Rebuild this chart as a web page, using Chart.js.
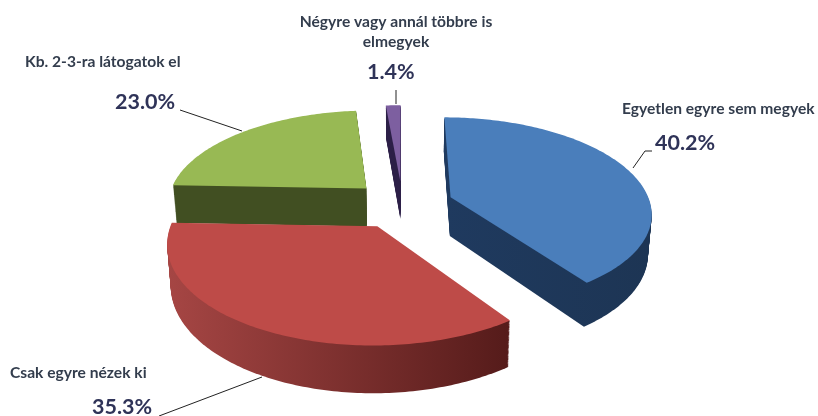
<!DOCTYPE html>
<html lang="hu">
<head>
<meta charset="utf-8">
<title>Pie</title>
<script src="https://cdn.jsdelivr.net/npm/chart.js@4/dist/chart.umd.js"></script>
<style>
    html, body { margin: 0; padding: 0; background: #fff; }
    canvas { display: block; }
</style>
</head>
<body>
<canvas id="pieChart" width="818" height="416"></canvas>
<script>
const categories = [
    'Egyetlen egyre sem megyek',
    'Csak egyre nézek ki',
    'Kb. 2-3-ra látogatok el',
    ['Négyre vagy annál többre is', 'elmegyek']
];
const values = [40.2, 35.3, 23.0, 1.4];

const topColors = ['#4a7ebb', '#be4b48', '#98b954', '#7d5fa0'];
const sideColors = [
    ['#1f3a5f', '#1d3554'],
    ['#a64644', '#551b1a'],
    ['#414f22', '#414f22'],
    ['#2c1f47', '#2c1f47']
];
const drawOrder = [2, 3, 0, 1];

// perspective of the tilted pie
const SQUASH = 0.47;
const PERSPECTIVE = 0.00075;
const DEPTH = 39;
const BOTTOM_SHRINK = 0.015;

// text positions
const nameLayout = [
    { x: 622, y: 109, align: 'left' },
    { x: 10, y: 373, align: 'left' },
    { x: 25, y: 62, align: 'left' },
    { x: 396, y: 22, align: 'center' }
];
const valueLayout = [
    { x: 655, y: 143, align: 'left' },
    { x: 92, y: 407, align: 'left' },
    { x: 115, y: 102, align: 'left' },
    { x: 367, y: 72, align: 'left' }
];
const leaderLines = [
    [[652, 151], [645, 151], [633, 168]],
    [[159, 416], [262, 377]],
    [[180, 110], [242, 131]],
    [[396, 90], [396, 104]]
];

function project(cx, cy, gx, gy, t) {
    const w = 1 / (1 - PERSPECTIVE * gy);
    return {
        x: cx + gx * w * (1 - BOTTOM_SHRINK * t),
        y: cy + (SQUASH * gy + DEPTH * t) * w
    };
}

function slicePoints(arc) {
    const p = arc.getProps(['x', 'y', 'startAngle', 'endAngle', 'outerRadius']);
    const mid = (p.startAngle + p.endAngle) / 2;
    const dx = Math.cos(mid) * arc.options.offset;
    const dy = Math.sin(mid) * arc.options.offset;
    const pts = [[dx, dy]];
    const steps = Math.max(2, Math.ceil((p.endAngle - p.startAngle) * 60));
    for (let i = 0; i <= steps; i++) {
        const a = p.startAngle + (p.endAngle - p.startAngle) * i / steps;
        pts.push([dx + Math.cos(a) * p.outerRadius, dy + Math.sin(a) * p.outerRadius]);
    }
    return { cx: p.x, cy: p.y, pts: pts };
}

function fillSlice(ctx, slice, t, fill) {
    ctx.beginPath();
    slice.pts.forEach((g, i) => {
        const q = project(slice.cx, slice.cy, g[0], g[1], t);
        if (i === 0) ctx.moveTo(q.x, q.y);
        else ctx.lineTo(q.x, q.y);
    });
    ctx.closePath();
    ctx.fillStyle = fill;
    ctx.fill();
}

const pie3d = {
    id: 'pie3d',
    beforeDatasetDraw(chart) {
        const ctx = chart.ctx;
        const arcs = chart.getDatasetMeta(0).data;
        drawOrder.forEach(i => {
            const slice = slicePoints(arcs[i]);
            const xs = slice.pts.map(g => project(slice.cx, slice.cy, g[0], g[1], 0).x);
            const side = ctx.createLinearGradient(Math.min(...xs), 0, Math.max(...xs), 0);
            side.addColorStop(0, sideColors[i][0]);
            side.addColorStop(1, sideColors[i][1]);
            for (let k = DEPTH; k > 0; k--) {
                fillSlice(ctx, slice, k / DEPTH, side);
            }
            fillSlice(ctx, slice, 0, arcs[i].options.backgroundColor);
        });
        return false;
    },
    afterDraw(chart) {
        const ctx = chart.ctx;
        ctx.save();
        ctx.strokeStyle = '#222';
        ctx.lineWidth = 1;
        leaderLines.forEach(line => {
            ctx.beginPath();
            line.forEach((pt, i) => i === 0 ? ctx.moveTo(pt[0], pt[1]) : ctx.lineTo(pt[0], pt[1]));
            ctx.stroke();
        });
        ctx.textBaseline = 'middle';
        categories.forEach((name, i) => {
            const lines = Array.isArray(name) ? name : [name];
            ctx.font = 'bold 15.6px Lato';
            ctx.fillStyle = '#333d4d';
            ctx.textAlign = nameLayout[i].align;
            lines.forEach((line, n) => ctx.fillText(line, nameLayout[i].x, nameLayout[i].y + n * 20));
            ctx.font = 'bold 21.5px Lato';
            ctx.fillStyle = '#2f3358';
            ctx.textAlign = valueLayout[i].align;
            ctx.fillText(values[i].toFixed(1) + '%', valueLayout[i].x, valueLayout[i].y);
        });
        ctx.restore();
    }
};

new Chart(document.getElementById('pieChart'), {
    type: 'pie',
    data: {
        labels: categories,
        datasets: [{
            data: values,
            backgroundColor: topColors,
            borderWidth: 0,
            offset: 51
        }]
    },
    options: {
        responsive: false,
        animation: false,
        rotation: 0,
        radius: 200,
        layout: { padding: { right: 13, bottom: 7 } },
        plugins: { legend: { display: false }, tooltip: { enabled: false } }
    },
    plugins: [pie3d]
});
</script>
</body>
</html>
